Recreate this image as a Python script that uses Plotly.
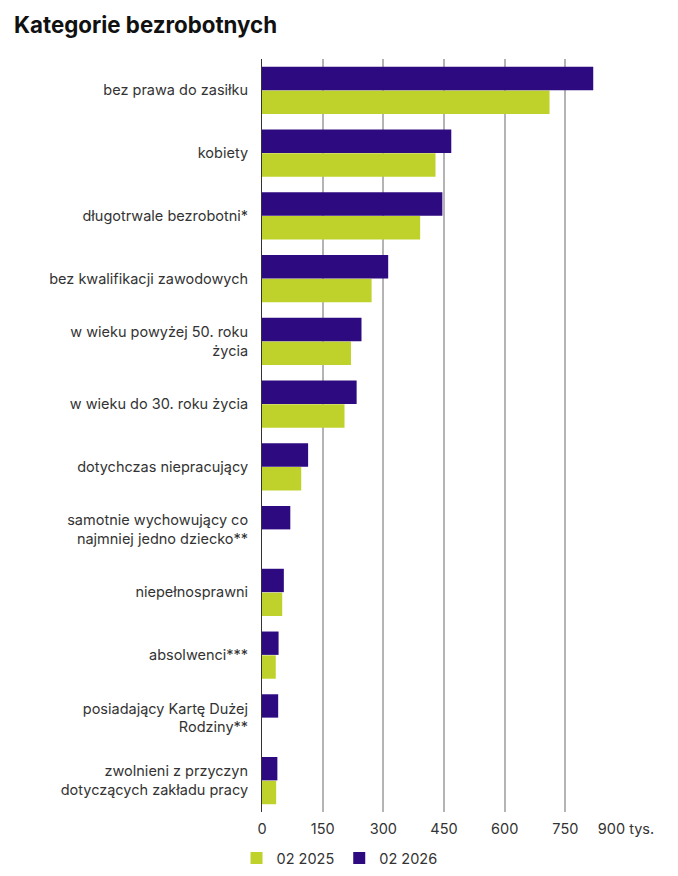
import plotly.graph_objects as go

# categories top to bottom
categories = [
    'bez prawa do zasiłku',
    'kobiety',
    'długotrwale bezrobotni*',
    'bez kwalifikacji zawodowych',
    'w wieku powyżej 50. roku<br>życia',
    'w wieku do 30. roku życia',
    'dotychczas niepracujący',
    'samotnie wychowujący co<br>najmniej jedno dziecko**',
    'niepełnosprawni',
    'absolwenci***',
    'posiadający Kartę Dużej<br>Rodziny**',
    'zwolnieni z przyczyn<br>dotyczących zakładu pracy',
]
values_2025 = [711, 429, 391, 271, 220, 204, 97, None, 50, 34, None, 35]
values_2026 = [819, 468, 446, 312, 246, 234, 114, 70, 54, 41, 40, 38]
tick_vals = [0, 150, 300, 450, 600, 750, 900]
tick_text = ['0', '150', '300', '450', '600', '750', '900 tys.']

LIME = '#BFD22B'
PURPLE = '#2E0A80'
FONT = 'Inter, Noto Sans, sans-serif'

fig = go.Figure()
fig.add_trace(go.Bar(y=categories, x=values_2025, orientation='h', name='02 2025',
                     marker=dict(color=LIME, line=dict(width=0))))
fig.add_trace(go.Bar(y=categories, x=values_2026, orientation='h', name='02 2026',
                     marker=dict(color=PURPLE, line=dict(width=0))))

# page body has an 8px margin, so the figure is sized to fit inside the window
fig.update_layout(
    width=670, height=868,
    margin=dict(l=254, r=52, t=51, b=64),
    paper_bgcolor='white', plot_bgcolor='white',
    font=dict(family=FONT, size=14.5, color='#333333'),
    title=dict(text='<b>Kategorie bezrobotnych</b>', x=6 / 670, xanchor='left',
               y=1 - 17 / 868, yanchor='middle', font=dict(size=22.3, color='#111111')),
    barmode='group', bargap=0.24, bargroupgap=0.02,
    showlegend=True,
    legend=dict(orientation='h', x=-0.07, xanchor='left', yref='container',
                y=18 / 868, yanchor='middle', font=dict(size=14.5),
                traceorder='normal', itemwidth=30),
)
fig.update_xaxes(range=[0, 900], tickvals=tick_vals, ticktext=tick_text,
                 showgrid=True, gridcolor='#b4b4b4', gridwidth=1.5,
                 zeroline=False, showline=False, ticks='', ticklabelstandoff=6,
                 automargin=False)
fig.update_yaxes(categoryorder='array', categoryarray=categories[::-1],
                 showline=True, linecolor='#333333', linewidth=1,
                 ticks='', ticklabelstandoff=10, showgrid=False, automargin=False)

fig.write_html('out.html')
